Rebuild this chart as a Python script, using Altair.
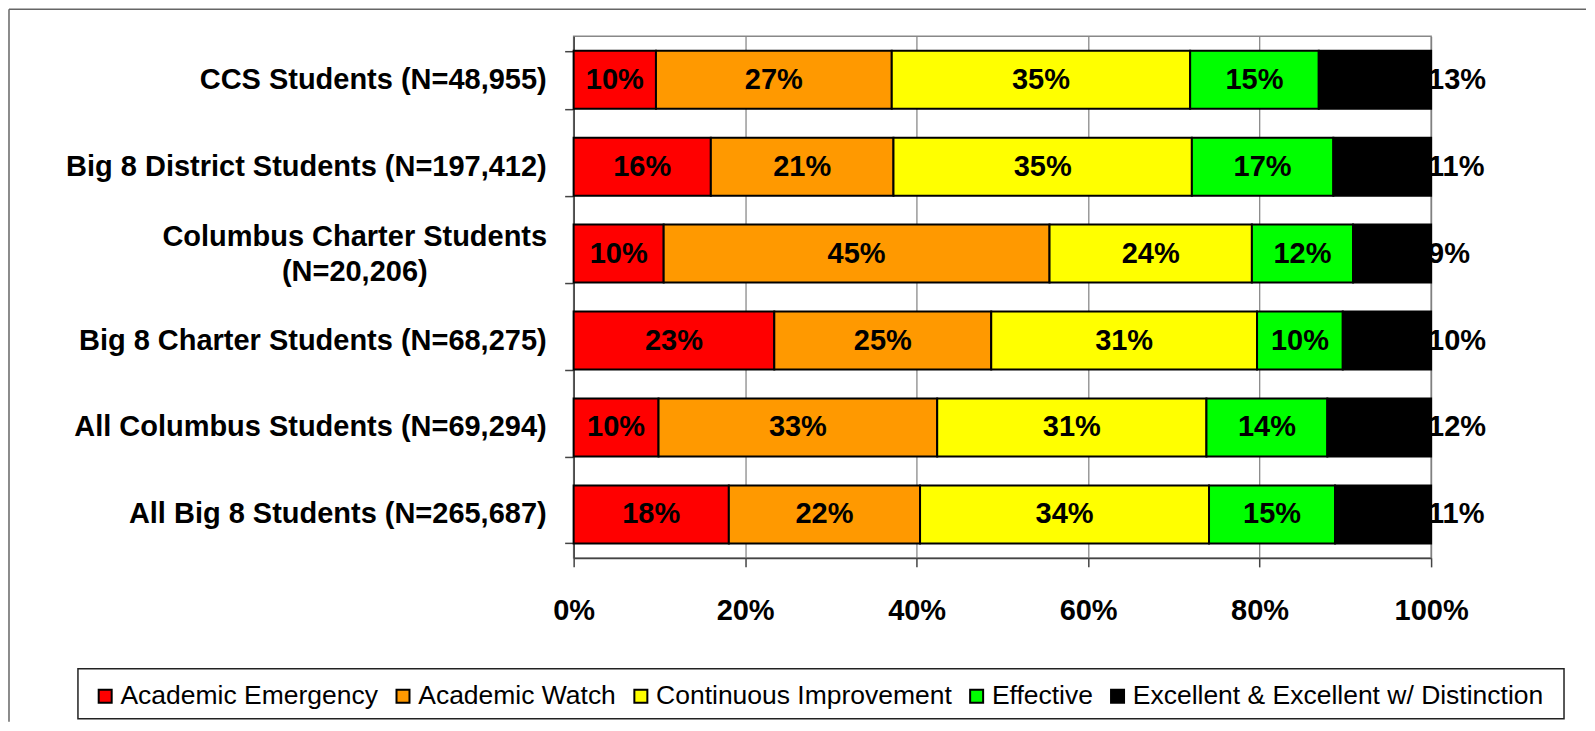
import altair as alt
import pandas as pd

FONT = "Liberation Sans"

categories = [
    "CCS Students (N=48,955)",
    "Big 8 District Students (N=197,412)",
    "Columbus Charter Students\n(N=20,206)",
    "Big 8 Charter Students (N=68,275)",
    "All Columbus Students (N=69,294)",
    "All Big 8 Students (N=265,687)",
]
levels = [
    "Academic Emergency",
    "Academic Watch",
    "Continuous Improvement",
    "Effective",
    "Excellent & Excellent w/ Distinction",
]
colors = ["#FF0000", "#FF9900", "#FFFF00", "#00FF00", "#000000"]

emergency = [9.6, 16.0, 10.5, 23.4, 9.9, 18.1]
watch = [27.5, 21.3, 45.0, 25.3, 32.5, 22.3]
improvement = [34.8, 34.8, 23.6, 31.0, 31.4, 33.7]
effective = [15.0, 16.5, 11.8, 10.0, 14.1, 14.7]
excellent = [13.1, 11.4, 9.1, 10.3, 12.1, 11.2]

label_emergency = ["10%", "16%", "10%", "23%", "10%", "18%"]
label_watch = ["27%", "21%", "45%", "25%", "33%", "22%"]
label_improvement = ["35%", "35%", "24%", "31%", "31%", "34%"]
label_effective = ["15%", "17%", "12%", "10%", "14%", "15%"]
label_excellent = ["13%", "11%", "9%", "10%", "12%", "11%"]

x_ticks = [0, 20, 40, 60, 80, 100]

series = [emergency, watch, improvement, effective, excellent]
series_labels = [label_emergency, label_watch, label_improvement, label_effective, label_excellent]

rows = []
for li, (lvl, vals, labs) in enumerate(zip(levels, series, series_labels)):
    for ci, cat in enumerate(categories):
        rows.append({"category": cat, "level": lvl, "order": li,
                     "value": vals[ci], "label": labs[ci]})
df = pd.DataFrame(rows)
ylab_df = pd.DataFrame({"category": categories})
deco = pd.DataFrame({"k": [0]})

y_enc = alt.Y(
    "category:N", sort=categories, title=None,
    scale=alt.Scale(paddingInner=0.333, paddingOuter=0.1667),
    axis=alt.Axis(labels=False, title=None, tickBand="extent", ticks=True,
                  tickSize=9, tickColor="#444444", tickWidth=1.5,
                  domainColor="#444444", domainWidth=1.5, grid=False),
)

x_axis = alt.Axis(values=x_ticks, labelExpr="datum.value + '%'", title=None,
                  labelFont=FONT, labelFontSize=29, labelFontWeight="bold",
                  labelColor="black", labelPadding=30, labelFlush=False,
                  tickSize=9, tickColor="#444444", tickWidth=1.5,
                  domainColor="#444444", domainWidth=1.5, grid=True,
                  gridColor="#808080", gridWidth=1.2)
x_scale = alt.Scale(domain=[0, 100], nice=False)

bars = alt.Chart(df).mark_bar(stroke="black", strokeWidth=2).encode(
    y=y_enc,
    x=alt.X("value:Q", stack="zero", scale=x_scale, axis=x_axis),
    color=alt.Color(
        "level:N",
        scale=alt.Scale(domain=levels, range=colors),
        legend=alt.Legend(
            title=None, orient="none", legendX=-482, legendY=647,
            direction="horizontal", symbolType="square", symbolSize=169,
            symbolStrokeColor="black", symbolStrokeWidth=2,
            labelFont=FONT, labelFontSize=26.5, labelColor="black",
            labelLimit=1000, labelOffset=2, columnPadding=11, padding=0,
        ),
    ),
    order=alt.Order("order:Q"),
)

stacked = alt.Chart(df).transform_stack(
    stack="value", groupby=["category"], sort=[alt.SortField("order")],
    as_=["v0", "v1"],
).transform_calculate(mid="(datum.v0 + datum.v1) / 2")

inner_text = stacked.transform_filter("datum.order < 4").mark_text(
    font=FONT, fontSize=29, fontWeight="bold", color="black", baseline="middle"
).encode(
    y=y_enc,
    x=alt.X("mid:Q", scale=x_scale, axis=x_axis),
    text="label:N",
)

outer_text = stacked.transform_filter("datum.order == 4").mark_text(
    font=FONT, fontSize=29, fontWeight="bold", color="black",
    baseline="middle", align="left", dx=-3,
).encode(
    y=y_enc,
    x=alt.X("v1:Q", scale=x_scale, axis=x_axis),
    text="label:N",
)

ylab_single = alt.Chart(ylab_df).transform_filter(
    "indexof(datum.category, '\\n') < 0"
).mark_text(
    font=FONT, fontSize=29, fontWeight="bold", color="black",
    baseline="middle", align="right",
).encode(y=y_enc, x=alt.value(-27), text="category:N")

ylab_multi = alt.Chart(ylab_df).transform_filter(
    "indexof(datum.category, '\\n') >= 0"
).mark_text(
    font=FONT, fontSize=29, fontWeight="bold", color="black",
    baseline="middle", align="center", lineBreak="\n", lineHeight=35, dy=-17,
).encode(y=y_enc, x=alt.value(-219), text="category:N")

frame_top = alt.Chart(deco).mark_rule(color="#666666", strokeWidth=1.5).encode(
    x=alt.value(-565), x2=alt.value(1013), y=alt.value(-27))
frame_left = alt.Chart(deco).mark_rule(color="#666666", strokeWidth=1.5).encode(
    x=alt.value(-565), y=alt.value(-27), y2=alt.value(686))
legend_box = alt.Chart(deco).mark_rect(fill="white", stroke="#222222", strokeWidth=1.5).encode(
    x=alt.value(-496), x2=alt.value(991), y=alt.value(633), y2=alt.value(683))

chart = alt.layer(
    frame_top, frame_left, legend_box, bars, inner_text, outer_text,
    ylab_single, ylab_multi,
).properties(
    width=858, height=522, padding=0, background="white",
).configure_view(stroke="#888888", strokeWidth=1.5)

chart.save("out.html", embed_options={"renderer": "svg", "actions": False})
